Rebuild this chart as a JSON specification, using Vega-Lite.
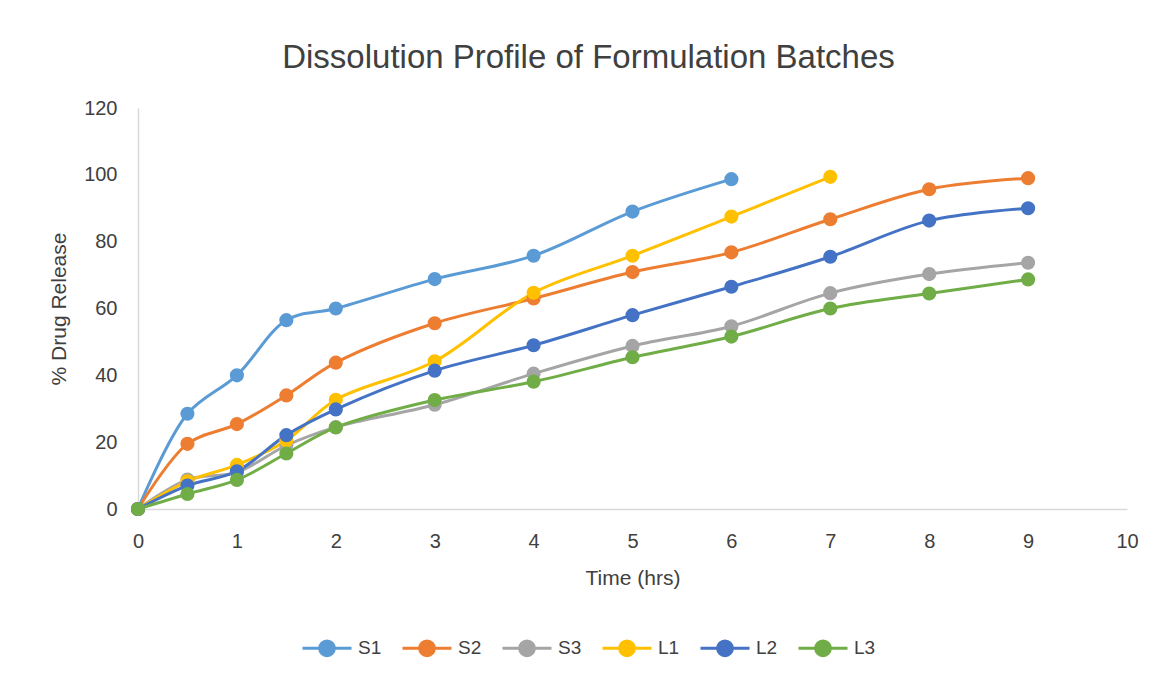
{
  "$schema": "https://vega.github.io/schema/vega-lite/v6.json",
  "autosize": {"type": "none"},
  "width": 989,
  "height": 401,
  "padding": {"left": 138, "top": 108, "right": 29, "bottom": 166},
  "background": "white",
  "config": {
    "view": {"stroke": null},
    "font": "Liberation Sans",
    "axis": {"grid": false, "ticks": false, "labelFlush": false, "domainColor": "#D9D9D9", "domainWidth": 1.5, "labelColor": "#404040", "titleColor": "#404040", "labelFontSize": 20, "titleFontSize": 21, "titleFontWeight": "normal", "labelFont": "Liberation Sans", "titleFont": "Liberation Sans"}
  },
  "title": {"text": "Dissolution Profile of Formulation Batches", "fontSize": 33, "fontWeight": "normal", "color": "#404040", "anchor": "middle", "frame": "group", "dx": -44, "offset": 23},
  "data": {"values": [
    {"t": 0, "r": 0, "s": "S1"}, {"t": 0.5, "r": 28.5, "s": "S1"}, {"t": 1, "r": 40, "s": "S1"}, {"t": 1.5, "r": 56.5, "s": "S1"}, {"t": 2, "r": 60, "s": "S1"}, {"t": 3, "r": 68.8, "s": "S1"}, {"t": 4, "r": 75.8, "s": "S1"}, {"t": 5, "r": 89, "s": "S1"}, {"t": 6, "r": 98.7, "s": "S1"},
    {"t": 0, "r": 0, "s": "S2"}, {"t": 0.5, "r": 19.5, "s": "S2"}, {"t": 1, "r": 25.4, "s": "S2"}, {"t": 1.5, "r": 34, "s": "S2"}, {"t": 2, "r": 43.8, "s": "S2"}, {"t": 3, "r": 55.6, "s": "S2"}, {"t": 4, "r": 63, "s": "S2"}, {"t": 5, "r": 70.9, "s": "S2"}, {"t": 6, "r": 76.8, "s": "S2"}, {"t": 7, "r": 86.7, "s": "S2"}, {"t": 8, "r": 95.7, "s": "S2"}, {"t": 9, "r": 99, "s": "S2"},
    {"t": 0, "r": 0, "s": "S3"}, {"t": 0.5, "r": 8.8, "s": "S3"}, {"t": 1, "r": 11, "s": "S3"}, {"t": 1.5, "r": 19, "s": "S3"}, {"t": 2, "r": 24.5, "s": "S3"}, {"t": 3, "r": 31.2, "s": "S3"}, {"t": 4, "r": 40.5, "s": "S3"}, {"t": 5, "r": 48.8, "s": "S3"}, {"t": 6, "r": 54.7, "s": "S3"}, {"t": 7, "r": 64.6, "s": "S3"}, {"t": 8, "r": 70.3, "s": "S3"}, {"t": 9, "r": 73.7, "s": "S3"},
    {"t": 0, "r": 0, "s": "L1"}, {"t": 0.5, "r": 8.3, "s": "L1"}, {"t": 1, "r": 13.2, "s": "L1"}, {"t": 1.5, "r": 20.5, "s": "L1"}, {"t": 2, "r": 32.7, "s": "L1"}, {"t": 3, "r": 44.2, "s": "L1"}, {"t": 4, "r": 64.7, "s": "L1"}, {"t": 5, "r": 75.8, "s": "L1"}, {"t": 6, "r": 87.5, "s": "L1"}, {"t": 7, "r": 99.4, "s": "L1"},
    {"t": 0, "r": 0, "s": "L2"}, {"t": 0.5, "r": 7, "s": "L2"}, {"t": 1, "r": 11.3, "s": "L2"}, {"t": 1.5, "r": 22.1, "s": "L2"}, {"t": 2, "r": 29.8, "s": "L2"}, {"t": 3, "r": 41.4, "s": "L2"}, {"t": 4, "r": 49, "s": "L2"}, {"t": 5, "r": 58, "s": "L2"}, {"t": 6, "r": 66.5, "s": "L2"}, {"t": 7, "r": 75.5, "s": "L2"}, {"t": 8, "r": 86.3, "s": "L2"}, {"t": 9, "r": 90, "s": "L2"},
    {"t": 0, "r": 0, "s": "L3"}, {"t": 0.5, "r": 4.5, "s": "L3"}, {"t": 1, "r": 8.7, "s": "L3"}, {"t": 1.5, "r": 16.6, "s": "L3"}, {"t": 2, "r": 24.4, "s": "L3"}, {"t": 3, "r": 32.6, "s": "L3"}, {"t": 4, "r": 38.1, "s": "L3"}, {"t": 5, "r": 45.4, "s": "L3"}, {"t": 6, "r": 51.6, "s": "L3"}, {"t": 7, "r": 60, "s": "L3"}, {"t": 8, "r": 64.5, "s": "L3"}, {"t": 9, "r": 68.7, "s": "L3"}
  ]},
  "encoding": {
    "x": {"field": "t", "type": "quantitative", "title": "Time (hrs)", "scale": {"domain": [0, 10], "nice": false}, "axis": {"values": [0,1,2,3,4,5,6,7,8,9,10], "labelPadding": 22, "titlePadding": 16}},
    "y": {"field": "r", "type": "quantitative", "title": "% Drug Release", "scale": {"domain": [0, 120], "nice": false}, "axis": {"values": [0,20,40,60,80,100,120], "labelPadding": 21, "titlePadding": 14}},
    "color": {"field": "s", "type": "nominal", "title": null,
      "scale": {"domain": ["S1","S2","S3","L1","L2","L3"], "range": ["#5B9BD5","#ED7D31","#A5A5A5","#FFC000","#4472C4","#70AD47"]},
      "legend": {"orient": "none", "legendX": 163, "legendY": 514, "direction": "horizontal", "padding": 0, "labelFontSize": 19, "labelColor": "#404040", "labelOffset": 5, "columnPadding": 14, "symbolSize": 2401,
        "symbolType": "M-1,0L1,0M-0.3,0A0.3,0.3,0,1,0,0.3,0A0.3,0.3,0,1,0,-0.3,0Z",
        "symbolStrokeWidth": 3,
        "encode": {"symbols": {"update": {"fill": {"scale": "color", "field": "value"}, "stroke": {"scale": "color", "field": "value"}, "strokeWidth": {"value": 3}, "opacity": {"value": 1}}}}}
    }
  },
  "layer": [
    {"mark": {"type": "line", "interpolate": "catmull-rom", "strokeWidth": 3}},
    {"mark": {"type": "point", "filled": true, "size": 200, "opacity": 1}}
  ]
}
